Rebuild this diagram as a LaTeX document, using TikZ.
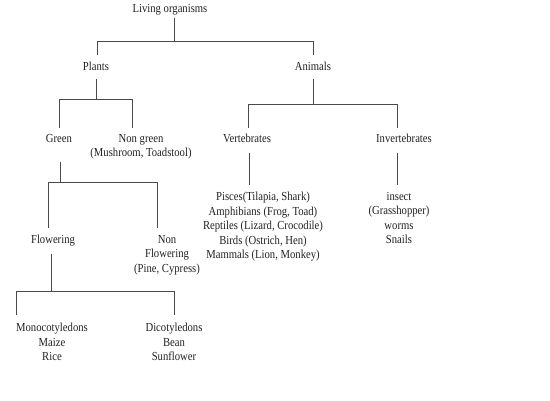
\documentclass[tikz,border=0pt]{standalone}
\usepackage{fontspec}
\setmainfont[FakeStretch=0.87]{Liberation Serif}
\usetikzlibrary{calc}
\definecolor{textc}{HTML}{222222}
\definecolor{linec}{HTML}{4A4A4A}
\begin{document}
\begin{tikzpicture}[x=1bp,y=-1bp,
  lbl/.style={font=\fontsize{12.3}{14.5}\selectfont, text=textc, inner sep=0pt, anchor=north},
  one/.style={lbl, text height=8.4bp, text depth=2.7bp},
  multi/.style={lbl, align=center},
  conn/.style={draw=linec, line width=0.8pt}]
\useasboundingbox[fill=white] (0,0) rectangle (550,400);

\node[one] (lo) at (170,4) {Living organisms};
\node[one] (pl) at (96,62) {Plants};
\node[one] (an) at (313,62) {Animals};
\node[one] (gr) at (59,134) {Green};
\node[multi] (ng) at (141,134) {Non green\\(Mushroom, Toadstool)};
\node[one] (ve) at (247,134) {Vertebrates};
\node[one] (iv) at (404,134) {Invertebrates};
\node[multi] (vl) at (263,192) {Pisces(Tilapia, Shark)\\Amphibians (Frog, Toad)\\Reptiles (Lizard, Crocodile)\\Birds (Ostrich, Hen)\\Mammals (Lion, Monkey)};
\node[multi] (il) at (399,192) {insect\\(Grasshopper)\\worms\\Snails};
\node[one] (fl) at (53,235) {Flowering};
\node[multi] (nf) at (167,235) {Non\\Flowering\\(Pine, Cypress)};
\node[multi] (mo) at (52,323) {Monocotyledons\\Maize\\Rice};
\node[multi] (di) at (174,323) {Dicotyledons\\Bean\\Sunflower};

\coordinate (b1) at (0,41);
\coordinate (b2) at (0,99);
\coordinate (b3) at (0,104);
\coordinate (b4) at (0,182);
\coordinate (b5) at (0,291);

% Living organisms
\draw[conn] ($(lo.south)+(4,2)$) -- ($(lo.south |- b1)+(4,0)$);
\draw[conn] ($(pl.north)+(1,-7)$) -- ($(pl.north |- b1)+(1,0)$) -- (an.north |- b1) -- ($(an.north)+(0,-7)$);
% Plants
\draw[conn] ($(pl.south)+(0,5)$) -- (pl.south |- b2);
\draw[conn] ($(gr.north)+(0,-6)$) -- (gr.north |- b2) -- ($(ng.north |- b2)+(-9,0)$) -- ($(ng.north)+(-9,-6)$);
% Animals
\draw[conn] ($(an.south)+(0,5)$) -- (an.south |- b3);
\draw[conn] ($(ve.north)+(1,-6)$) -- ($(ve.north |- b3)+(1,0)$) -- ($(iv.north |- b3)+(-7,0)$) -- ($(iv.north)+(-7,-6)$);
% Vertebrates / Invertebrates
\draw[conn] ($(ve.south)+(2,7)$) -- ($(ve.south |- vl.north)+(2,-7)$);
\draw[conn] ($(iv.south)+(-7,7)$) -- ($(iv.south |- il.north)+(-7,-7)$);
% Green
\draw[conn] ($(gr.south)+(1,16)$) -- ($(gr.south |- b4)+(1,0)$);
\draw[conn] ($(fl.north)+(-5,-7)$) -- ($(fl.north |- b4)+(-5,0)$) -- ($(nf.north |- b4)+(-10,0)$) -- ($(nf.north)+(-10,-7)$);
% Flowering
\draw[conn] ($(fl.south)+(-2,7)$) -- ($(fl.south |- b5)+(-2,0)$);
\draw[conn] ($(mo.north)+(-36,-8)$) -- ($(mo.north |- b5)+(-36,0)$) -- (di.north |- b5) -- ($(di.north)+(0,-8)$);
\end{tikzpicture}
\end{document}
